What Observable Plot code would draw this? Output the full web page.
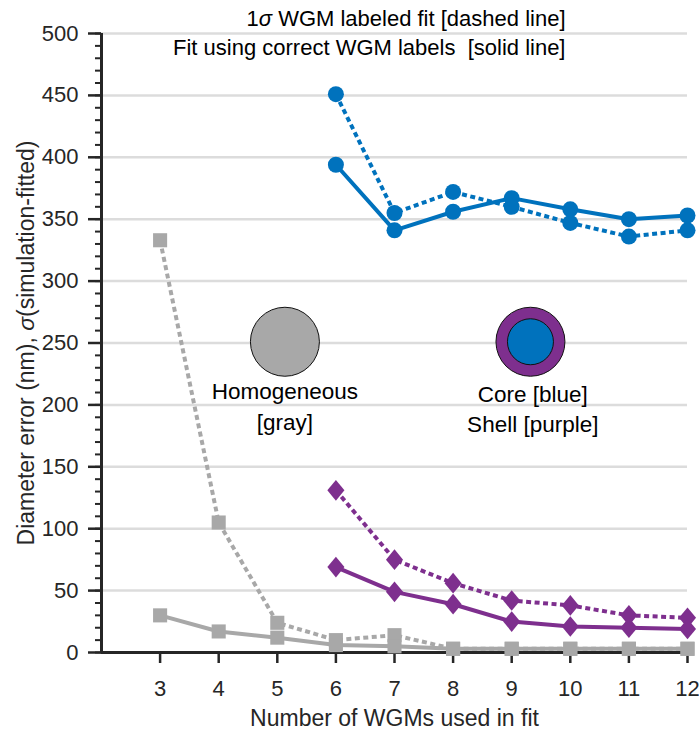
<!DOCTYPE html>
<html>
<head>
<meta charset="utf-8">
<script src="https://cdn.jsdelivr.net/npm/d3@7"></script>
<script src="https://cdn.jsdelivr.net/npm/@observablehq/plot@0.6"></script>
<style>
  html, body { margin: 0; padding: 0; background: #fff; overflow: hidden; }
  #chart svg { display: block; }
</style>
</head>
<body>
<div id="chart"></div>
<script>
// Number of whispering-gallery modes used in each fit
const wgmCounts = [3, 4, 5, 6, 7, 8, 9, 10, 11, 12];
const coreShellCounts = [6, 7, 8, 9, 10, 11, 12];

// Homogeneous sphere: fit with correct WGM labels (solid) and 1σ labeled fit (dashed)
const homogeneousFit = [30, 17, 12, 6, 5, 3, 3, 3, 3, 3];
const homogeneousSigma = [333, 105, 24, 10, 14, 3, 3, 3, 3, 3];

// Core-shell sphere: core diameter error
const coreFit = [394, 341, 356, 367, 358, 350, 353];
const coreSigma = [451, 355, 372, 360, 347, 336, 341];

// Core-shell sphere: shell thickness error
const shellFit = [69, 49, 39, 25, 21, 20, 19];
const shellSigma = [131, 75, 56, 42, 38, 30, 28];

// Axis ticks
const yMajorTicks = [0, 50, 100, 150, 200, 250, 300, 350, 400, 450, 500];
const yMinorTicks = d3.range(0, 501, 10);
const xTicks = [3, 4, 5, 6, 7, 8, 9, 10, 11, 12];

// Texts
const titleDashed = "1σ WGM labeled fit [dashed line]";
const titleSolid = "Fit using correct WGM labels  [solid line]";
const xLabel = "Number of WGMs used in fit";
const yLabel = "Diameter error (nm), σ(simulation-fitted)";

// Inset sphere sketches and their captions
const homogeneousIcon = [{x: 5.13, y: 251}];
const coreShellIcon = [{x: 9.32, y: 251}];
const iconCaptions = [
  {x: 5.13, y: 200, text: "Homogeneous\n[gray]"},
  {x: 9.36, y: 198, text: "Core [blue]\nShell [purple]"}
];

const BLUE = "#0072bd";
const PURPLE = "#7e2f8e";
const GRAY = "#a8a8a8";
const INK = "#262626";
const FONT = "'Liberation Sans', Arial, Helvetica, sans-serif";

const rows = (xs, ys) => xs.map((x, i) => ({x, y: ys[i]}));

// Marker shapes: a slightly tall diamond and a square
const tallDiamond = {
  draw(ctx, size) {
    const r = Math.sqrt(size / Math.PI);
    ctx.moveTo(0, -r * 1.15);
    ctx.lineTo(r * 0.95, 0);
    ctx.lineTo(0, r * 1.15);
    ctx.lineTo(-r * 0.95, 0);
    ctx.closePath();
  }
};
const squareMarker = {
  draw(ctx, size) {
    const r = Math.sqrt(size / Math.PI) * 0.8;
    ctx.rect(-r, -r, 2 * r, 2 * r);
  }
};

const DASH = "5,3.5";
const LW = 4;

function series(data, color, dashed, symbol, r) {
  return [
    Plot.line(data, {x: "x", y: "y", stroke: color, strokeWidth: LW,
      strokeDasharray: dashed ? DASH : null, strokeLinecap: "butt", strokeLinejoin: "round"}),
    Plot.dot(data, {x: "x", y: "y", symbol, r, fill: color, stroke: "none"})
  ];
}

const chart = Plot.plot({
  width: 699,
  height: 731,
  marginLeft: 101,
  marginRight: 12,
  marginTop: 33,
  marginBottom: 79,
  style: {fontFamily: FONT, fontSize: "22px", color: INK, background: "#fff"},
  x: {domain: [2, 12], axis: null},
  y: {domain: [0, 500], axis: null},
  marks: [
    Plot.gridY(yMajorTicks.filter(d => d > 0), {stroke: "#dcdcdc", strokeOpacity: 1, strokeWidth: 2.5}),

    // Y axis: minor and major ticks
    Plot.axisY(yMinorTicks, {tickSize: 6, tickFormat: () => "", strokeWidth: 2, stroke: INK, label: null}),
    Plot.axisY(yMajorTicks, {tickSize: 13, tickPadding: 10, strokeWidth: 2.5, stroke: INK, fill: INK, fontSize: 22, label: null}),

    // X axis: downward ticks below the baseline and their labels
    Plot.tickX(xTicks, {x: d => d, insetTop: 619, insetBottom: -11, stroke: INK, strokeWidth: 2.5}),
    Plot.text(xTicks, {x: d => d, frameAnchor: "bottom", dy: 36, text: d => String(d), lineAnchor: "middle", textAnchor: "middle", fontSize: 22, fill: INK}),
    Plot.ruleX([2], {stroke: INK, strokeWidth: 3}),
    Plot.ruleY([0], {stroke: INK, strokeWidth: 3}),

    // Axis labels
    Plot.text([xLabel], {frameAnchor: "bottom", dy: 66, lineAnchor: "middle", textAnchor: "middle", fontSize: 23, fill: INK}),
    Plot.text([yLabel], {frameAnchor: "left", rotate: -90, dx: -75, lineAnchor: "middle", textAnchor: "middle", fontSize: 23, fill: INK}),

    // Data series
    ...series(rows(wgmCounts, homogeneousSigma), GRAY, true, squareMarker, 8.8),
    ...series(rows(wgmCounts, homogeneousFit), GRAY, false, squareMarker, 8.8),
    ...series(rows(coreShellCounts, shellSigma), PURPLE, true, tallDiamond, 9),
    ...series(rows(coreShellCounts, shellFit), PURPLE, false, tallDiamond, 9),
    ...series(rows(coreShellCounts, coreSigma), BLUE, true, "circle", 8),
    ...series(rows(coreShellCounts, coreFit), BLUE, false, "circle", 8),

    // Sphere sketches
    Plot.dot(homogeneousIcon, {x: "x", y: "y", r: 34.5, fill: GRAY, stroke: "#111", strokeWidth: 1}),
    Plot.dot(coreShellIcon, {x: "x", y: "y", r: 34.5, fill: PURPLE, stroke: "#111", strokeWidth: 1}),
    Plot.dot(coreShellIcon, {x: "x", y: "y", r: 23, fill: BLUE, stroke: "#111", strokeWidth: 1}),
    Plot.text(iconCaptions, {x: "x", y: "y", text: "text", lineHeight: 1.36, lineAnchor: "middle", fontSize: 22.5, fill: "#000"}),

    // Note on the line styles
    Plot.text([titleDashed], {frameAnchor: "top-right", dx: -122, dy: -15, lineAnchor: "middle", textAnchor: "end", fontSize: 22, fill: "#000"}),
    Plot.text([titleSolid], {frameAnchor: "top-right", dx: -122, dy: 14, lineAnchor: "middle", textAnchor: "end", fontSize: 22, fill: "#000"})
  ]
});

// Set the σ symbol in italics wherever it appears
function italicizeSigma(root) {
  root.querySelectorAll("text, tspan").forEach(el => {
    Array.from(el.childNodes).forEach(node => {
      if (node.nodeType !== 3 || !node.nodeValue.includes("σ")) return;
      const parts = node.nodeValue.split("σ");
      const frag = document.createDocumentFragment();
      parts.forEach((part, i) => {
        if (i > 0) {
          const t = document.createElementNS("http://www.w3.org/2000/svg", "tspan");
          t.setAttribute("font-style", "italic");
          t.textContent = "σ";
          frag.appendChild(t);
        }
        if (part) frag.appendChild(document.createTextNode(part));
      });
      el.replaceChild(frag, node);
    });
  });
}
italicizeSigma(chart);

document.getElementById("chart").appendChild(chart);
</script>
</body>
</html>
